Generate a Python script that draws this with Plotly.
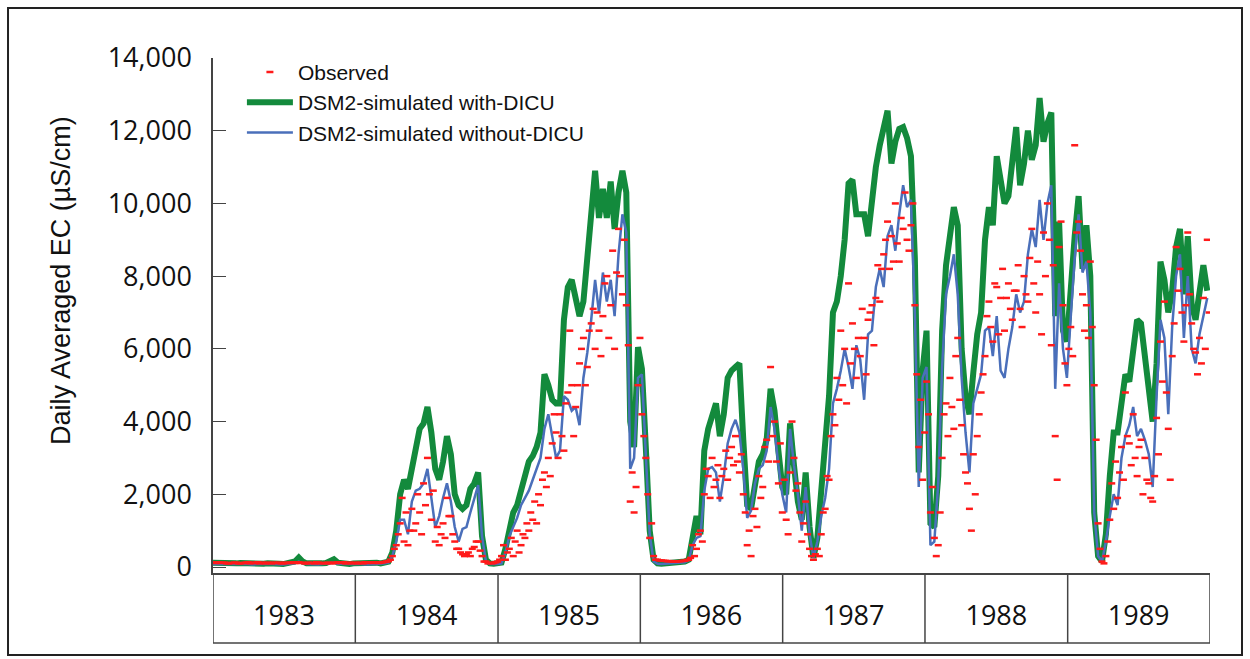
import pandas as pd
import plotly.graph_objects as go

# ---------------- data (10-day sampling) ----------------
dates = pd.date_range("1983-01-01", periods=256, freq="10D")
dates_mid = dates + pd.Timedelta(days=5)

years = [1983, 1984, 1985, 1986, 1987, 1988, 1989]
y_ticks = [0, 2000, 4000, 6000, 8000, 10000, 12000, 14000]
y_ticktext = ["0", "2,000", "4,000", "6,000", "8,000", "10,000", "12,000", "14,000"]

with_dicu = [
    120, 110, 100, 110, 100, 90, 100, 110, 100, 90,
    100, 90, 80, 90, 100, 110, 100, 90, 80, 100,
    110, 150, 260, 150, 100, 90, 80, 90, 100, 110,
    150, 210, 120, 100, 90, 80, 100, 110, 100, 90,
    100, 110, 120, 100, 110, 150, 400, 1000, 2000, 2400,
    2150, 2700, 3300, 3800, 3950, 4400, 3700, 2700, 2400, 2900,
    3600, 3100, 2000, 1700, 1600, 1700, 2150, 2300, 2600, 850,
    200, 100, 90, 100, 120, 500, 1100, 1500, 1700, 2100,
    2500, 2900, 3050, 3300, 3700, 5300, 5000, 4600, 4500, 4500,
    6800, 7700, 7900, 7300, 6900, 7300, 8600, 9700, 10900, 9600,
    10400, 9600, 10600, 9300, 10300, 10900, 10300, 4000, 3300, 6050,
    5450, 3300, 1000, 200, 100, 90, 100, 110, 100, 120,
    130, 150, 200, 800, 1400, 900, 3200, 3800, 4100, 4500,
    3600, 4200, 5200, 5400, 5500, 5600, 3500, 1700, 1600, 2400,
    2900, 3100, 3500, 4900, 4300, 3200, 2200, 2000, 3950, 2800,
    1800, 1300, 2600, 1100, 250, 800, 2200, 3500, 4700, 7000,
    7300, 8000, 9000, 10550, 10650, 9700, 9700, 9700, 9100, 10100,
    11000, 11600, 12100, 12550, 11100, 11700, 12050, 12100, 11800, 11300,
    8500, 2600, 5400, 6500, 1200, 1100, 2500, 6500, 8300, 9200,
    9900, 9400, 6000, 4700, 4200, 5350, 6400, 7000, 9000, 9900,
    9400, 11300, 10500, 10000, 10200, 11100, 12100, 10500, 11100, 12000,
    11200, 11600, 12900, 11700, 12200, 12500, 6900, 9500, 6500, 6200,
    7900, 9100, 10200, 8200, 9400, 8000, 1500, 300, 150, 900,
    2500, 3700, 3700, 4600, 5300, 5100, 6000, 6800, 6700, 5900,
    4800, 4000, 5600, 8400, 7900, 7000, 7600, 8800, 9300, 7500,
    9100, 7200, 6800, 7600, 8300, 7600,
]

without_dicu = [
    80, 70, 80, 90, 80, 70, 80, 80, 90, 80,
    70, 80, 70, 80, 90, 80, 70, 80, 70, 80,
    90, 100, 150, 100, 80, 70, 80, 70, 80, 90,
    100, 120, 90, 80, 70, 80, 80, 90, 80, 70,
    80, 90, 80, 90, 100, 120, 300, 700, 1300, 1300,
    900, 1800, 2100, 2150, 2300, 2700, 1900, 1100, 1400, 1900,
    2300, 1800, 1100, 700, 1050, 1100, 1500, 1900, 2250, 850,
    150, 80, 70, 80, 100, 400, 850, 1100, 1350, 1700,
    1900, 2100, 2400, 2700, 3000, 3800, 4200, 3600, 3000, 3200,
    4700, 4600, 4300, 4400, 3900, 5200, 5900, 6800, 7900, 7000,
    8100, 7300, 7900, 6900, 8600, 9700, 9200, 2700, 3000, 5200,
    5300, 3100, 900, 150, 90, 80, 90, 80, 90, 100,
    110, 130, 180, 600, 800, 850, 2100, 2700, 2750, 2600,
    1800, 2500, 3400, 3800, 4050, 3700, 2700, 1350, 1550, 2300,
    2700, 2800, 3200, 4400, 3800, 2800, 2000, 1500, 3800, 2800,
    2000, 1000, 2200, 900, 250, 700, 1400, 1900, 2700, 4500,
    4900, 5400, 6000, 5500, 4900, 6100, 5700, 4600, 6400, 6500,
    7700, 8200, 7700, 9100, 9400, 8700, 9700, 10500, 9900, 10100,
    7000, 2200, 5200, 5500, 600, 700, 2300, 5500, 7500, 8000,
    8600, 7500, 5200, 3700, 2600, 4500, 4900, 5300, 6500, 6600,
    5800, 6900, 5400, 5200, 6000, 6600, 7500, 7000, 7300, 8600,
    9300, 8800, 10100, 9000, 10000, 10500, 4900, 7800, 6000, 5200,
    6900, 8500, 9700, 8100, 8400, 7000, 1500, 300, 150, 700,
    1400, 2000, 1700, 3000, 3600, 3900, 4400, 3600, 3800, 3500,
    3100, 2200, 4700, 6800, 6300, 4200, 6600, 8000, 8600, 6300,
    8000, 6000, 5600, 6400, 6900, 7400,
]

observed_a = [
    130, 120, 110, 120, 100, 110, 120, 100, 110, 130,
    120, 110, 100, 110, 120, 100, 110, 120, 100, 110,
    120, 110, 130, 120, 100, 110, 100, 120, 110, 100,
    110, 120, 130, 110, 100, 120, 110, 100, 120, 130,
    120, 110, 130, 120, 140, 160, 300, 600, 1200, 700,
    600, 1600, 1200, 1500, 2300, 3000, 1300, 700, 600, 1200,
    1900, 1400, 700, 500, 350, 350, 300, 550, 700, 300,
    150, 120, 110, 150, 300, 200, 500, 300, 1000, 600,
    800, 1000, 1300, 1200, 1700, 2600, 3000, 3400, 3700, 4200,
    3200, 4800, 5000, 4400, 5600, 6300, 5500, 6700, 6000, 6500,
    6900, 8000, 7200, 6000, 9300, 7500, 7200, 1800, 1500, 5000,
    4200, 3000, 800, 300, 200, 180, 170, 160, 150, 150,
    160, 170, 200, 600, 500, 1000, 2000, 2500, 3000, 2400,
    1900, 2700, 2400, 3300, 3600, 2600, 2000, 600, 300, 1600,
    2500, 2200, 3500, 5500, 4000, 2300, 1500, 1300, 2600, 3000,
    2300, 700, 1800, 500, 200, 500, 900, 1600, 2400, 4200,
    5200, 6500, 6000, 7800, 6700, 5200, 5800, 6300, 6800, 7200,
    7400, 7300, 8600, 9500, 9100, 10000, 8400, 9300, 9000, 9400,
    7200, 3300, 2400, 5100, 1500, 800, 600, 3000, 4500, 5200,
    3800, 6300, 3900, 2600, 1600, 3100, 3600, 4800, 5800, 7300,
    6200, 7700, 7400, 6500, 7800, 6800, 7600, 7100, 8000, 7300,
    9300, 7000, 7500, 9200, 10000, 6100, 3600, 8800, 7200, 5000,
    6600, 11600, 9500, 7500, 7200, 8400, 5000, 1200, 150, 300,
    1300, 1600, 1900, 3300, 4800, 3400, 4200, 2500, 3500, 3000,
    2300, 1800, 4100, 6200, 7300, 3800, 5800, 8800, 8200, 6200,
    9200, 6700, 5900, 6300, 7400, 9000,
]

observed_b = [
    110, 130, 120, 100, 110, 120, 100, 110, 120, 100,
    110, 130, 120, 100, 110, 120, 110, 100, 120, 110,
    130, 120, 110, 100, 120, 110, 130, 100, 110, 120,
    100, 110, 120, 130, 110, 100, 120, 110, 100, 110,
    130, 120, 110, 130, 150, 200, 500, 900, 1900, 1500,
    1000, 1000, 2000, 900, 1700, 2000, 2100, 1100, 900, 800,
    1400, 900, 500, 400, 300, 400, 500, 700, 450, 150,
    100, 100, 130, 200, 600, 400, 800, 700, 400, 900,
    1200, 1500, 1800, 2000, 2400, 2200, 2500, 4200, 3000, 3600,
    4500, 6500, 3600, 5000, 6000, 5000, 6500, 7100, 7000, 5800,
    7800, 6300, 8700, 8100, 8000, 9000, 6100, 2600, 2200, 6300,
    3600, 2000, 1200, 200, 180, 170, 160, 160, 150, 160,
    170, 190, 250, 300, 900, 700, 2700, 1900, 2200, 2800,
    2500, 3200, 3000, 2800, 2900, 3100, 1500, 1000, 1400, 1100,
    1900, 3300, 2900, 3600, 2900, 3400, 2400, 900, 4000, 2100,
    1500, 1200, 900, 300, 350, 300, 1500, 2500, 3600, 3900,
    4600, 5000, 4500, 5600, 6000, 6300, 7100, 5300, 7000, 6100,
    8300, 8200, 9000, 8200, 8400, 8900, 9600, 10300, 8700, 10000,
    5300, 4600, 3700, 4200, 2200, 300, 1500, 4200, 3600, 4400,
    5800, 4600, 3100, 2300, 1000, 2000, 4200, 5300, 6900, 6600,
    7800, 6400, 8200, 7400, 7100, 7600, 8300, 6600, 7500, 8500,
    7800, 8400, 6400, 8000, 9000, 8300, 2400, 9500, 5600, 6000,
    5800, 9200, 8700, 6500, 6300, 6600, 3500, 500, 100, 700,
    2300, 2900, 2600, 2400, 3600, 2800, 3000, 3300, 2000, 2400,
    1900, 2500, 3100, 5100, 4800, 2400, 6700, 7600, 7000, 7200,
    7500, 6000, 5300, 5600, 6000, 7000,
]

# ---------------- figure ----------------
fig = go.Figure()

fig.add_trace(go.Scatter(
    x=dates, y=with_dicu, mode="lines", name="DSM2-simulated with-DICU",
    line=dict(color="#138a3c", width=6), legendrank=2,
))
fig.add_trace(go.Scatter(
    x=dates, y=without_dicu, mode="lines", name="DSM2-simulated without-DICU",
    line=dict(color="#4a6fba", width=2.5), legendrank=3,
))
fig.add_trace(go.Scatter(
    x=list(dates) + list(dates_mid), y=observed_a + observed_b, mode="markers",
    name="Observed",
    marker=dict(symbol="line-ew", size=5, color="#ff1a1a",
                line=dict(color="#ff1a1a", width=2.5)),
    legendrank=1,
))

# year table under the axis
table_bottom = -0.136
line_col = "#444444"
for yr in years + [years[-1] + 1]:
    fig.add_shape(type="line", xref="x", yref="paper",
                  x0=f"{yr}-01-01", x1=f"{yr}-01-01", y0=table_bottom, y1=0,
                  line=dict(color=line_col, width=1.5))
fig.add_shape(type="line", xref="x", yref="paper",
              x0=f"{years[0]}-01-01", x1=f"{years[-1] + 1}-01-01",
              y0=table_bottom, y1=table_bottom, line=dict(color=line_col, width=1.5))

# outer frame
fig.add_shape(type="rect", xref="paper", yref="paper",
              x0=-0.2056, x1=1.0321, y0=-0.159, y1=1.097,
              line=dict(color="#222222", width=2))

# y-axis title (placed as in the original, above the axis centre)
fig.add_annotation(text="Daily Averaged EC (µS/cm)", xref="paper", yref="paper",
                   x=-0.1525, y=0.569, xanchor="center", yanchor="middle",
                   textangle=-90, showarrow=False,
                   font=dict(family="Liberation Sans, Arial", size=27, color="#111111"))

fig.update_layout(
    width=1250, height=659,
    margin=dict(l=213, r=40, t=58, b=86),
    paper_bgcolor="white", plot_bgcolor="white",
    font=dict(family="Open Sans", color="#111111"),
    showlegend=True,
    legend=dict(x=0.029, y=1.012, xanchor="left", yanchor="top",
                bgcolor="rgba(0,0,0,0)", font=dict(family="Liberation Sans, Arial", size=21),
                tracegroupgap=0, itemwidth=46),
    xaxis=dict(type="date", range=["1983-01-01", "1990-01-01"],
               showline=True, linecolor=line_col, linewidth=1.5,
               showgrid=False, zeroline=False, ticks="",
               tickvals=[f"{y}-07-02" for y in years], ticktext=[str(y) for y in years],
               tickfont=dict(family="Open Sans", size=27, color="#111111"),
               ticklabelstandoff=18),
    yaxis=dict(range=[-165, 14000], showline=True, linecolor=line_col, linewidth=1.5,
               showgrid=False, zeroline=False,
               ticks="inside", ticklen=13, tickwidth=1, tickcolor=line_col,
               tickvals=y_ticks, ticktext=y_ticktext,
               tickfont=dict(family="Open Sans", size=27, color="#111111"),
               ticklabelstandoff=14),
)

fig.write_html("out.html")
